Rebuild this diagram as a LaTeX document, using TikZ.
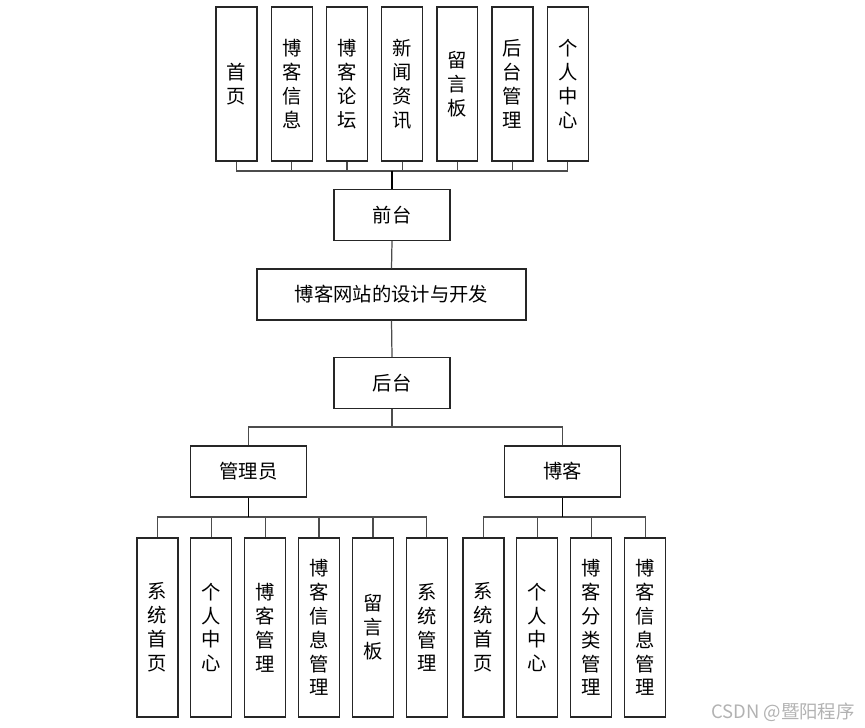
\documentclass[tikz,border=0pt]{standalone}
\usepackage{fontspec}
\setmainfont{Noto Sans CJK SC}
\usetikzlibrary{positioning}

\begin{document}
\begin{tikzpicture}[
  x=0.02cm, y=-0.02cm,
  box/.style={draw=black!85, line width=0.7pt, inner sep=0pt, align=center,
    font=\fontsize{11}{13.6}\selectfont},
  tallbox/.style={box, minimum width=0.82cm, minimum height=3.08cm},
  lowbox/.style={box, minimum width=0.82cm, minimum height=3.58cm},
  midbox/.style={box, minimum width=2.32cm, minimum height=1.02cm},
  link/.style={draw=black!70, line width=0.7pt},
  stem/.style={draw=black, line width=1.1pt}
]
\useasboundingbox (0,0) rectangle (865,727);

% front end
\node[tallbox] (home) at (236.5,84) {首\\页};
\node[tallbox, right=0.26cm of home] (bloginfo) {博\\客\\信\\息};
\node[tallbox, right=0.26cm of bloginfo] (forum) {博\\客\\论\\坛};
\node[tallbox, right=0.26cm of forum] (news) {新\\闻\\资\\讯};
\node[tallbox, right=0.26cm of news] (board) {留\\言\\板};
\node[tallbox, right=0.26cm of board] (admin) {后\\台\\管\\理};
\node[tallbox, right=0.26cm of admin] (center) {个\\人\\中\\心};
\node[midbox] (front) at (392,215) {前台};

% root and back end
\node[midbox, minimum width=5.38cm] (site) at (391.5,294.5) {博客网站的设计与开发};
\node[midbox] (back) at (392,383) {后台};
\node[midbox] (manager) at (248.5,471.5) {管理员};
\node[midbox] (blogger) at (562.5,471.5) {博客};

% manager functions
\node[lowbox] (mhome) at (157.5,627.5) {系\\统\\首\\页};
\node[lowbox, right=0.233cm of mhome] (mcenter) {个\\人\\中\\心};
\node[lowbox, right=0.233cm of mcenter] (mblog) {博\\客\\管\\理};
\node[lowbox, right=0.233cm of mblog] (minfo) {博\\客\\信\\息\\管\\理};
\node[lowbox, right=0.233cm of minfo] (mboard) {留\\言\\板};
\node[lowbox, right=0.233cm of mboard] (msys) {系\\统\\管\\理};

% blogger functions
\node[lowbox] (bhome) at (483.5,627.5) {系\\统\\首\\页};
\node[lowbox, right=0.233cm of bhome] (bcenter) {个\\人\\中\\心};
\node[lowbox, right=0.233cm of bcenter] (bsort) {博\\客\\分\\类\\管\\理};
\node[lowbox, right=0.233cm of bsort] (binfo) {博\\客\\信\\息\\管\\理};

\coordinate (topbus) at (392,171);
\coordinate (backbus) at (392,427);
\coordinate (mbus) at (248.5,517);
\coordinate (bbus) at (562.5,517);

\foreach \n in {home,bloginfo,forum,news,board,admin,center}
  \draw[link] (\n.south) |- (topbus);
\draw[stem] (topbus) -- (front.north);
\draw[link] (front.south) -- (site.north);
\draw[link] (site.south) -- (back.north);
\draw[link] (back.south) -- (backbus);
\draw[link] (backbus) -| (manager.north);
\draw[link] (backbus) -| (blogger.north);

\foreach \n in {mhome,mcenter,mblog,minfo,mboard,msys}
  \draw[link] (\n.north) |- (mbus);
\draw[stem] (manager.south) -- (mbus);
\foreach \n in {bhome,bcenter,bsort,binfo}
  \draw[link] (\n.north) |- (bbus);
\draw[stem] (blogger.south) -- (bbus);

\node[text=black!30, font=\fontsize{10.5}{12}\selectfont, anchor=east] (mark) at (861,712) {CSDN @暨阳程序};
\end{tikzpicture}
\end{document}
